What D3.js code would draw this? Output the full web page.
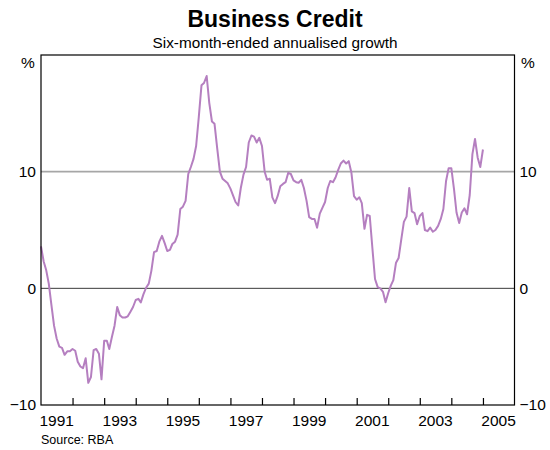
<!DOCTYPE html>
<html>
<head>
<meta charset="utf-8">
<script src="https://cdn.jsdelivr.net/npm/d3@7"></script>
<style>
  html, body { margin: 0; padding: 0; background: #fff; }
  svg { display: block; font-family: Arial, "Liberation Sans", sans-serif; }
</style>
</head>
<body>
<svg id="chart" width="550" height="450"></svg>
<script>
// Business credit, six-month-ended annualised growth, monthly from January 1991 (per cent)
const firstMonth = "1991-01";
const growth = [
  3.6, 2.3, 1.6, 0.4, -1.4, -3.2, -4.3, -5.0, -5.1, -5.7, -5.4, -5.4,
  -5.2, -5.35, -6.3, -6.7, -6.85, -6.0, -8.1, -7.6, -5.3, -5.2, -5.6, -7.8,
  -4.5, -4.5, -5.2, -4.15, -3.2, -1.6, -2.3, -2.5, -2.5, -2.4, -2.0, -1.6,
  -1.0, -0.9, -1.2, -0.5, 0.05, 0.4, 1.5, 3.1, 3.2, 4.0, 4.5, 3.9,
  3.2, 3.3, 3.8, 4.0, 4.6, 6.8, 7.0, 7.5, 9.8, 10.4, 11.1, 12.2,
  14.7, 17.4, 17.6, 18.2, 15.9, 14.3, 14.1, 12.0, 10.0, 9.4, 9.2, 9.0,
  8.55, 7.95, 7.4, 7.1, 8.6, 9.75, 10.4, 12.5, 13.1, 13.0, 12.5, 12.9,
  12.2, 10.0, 9.3, 9.4, 7.8, 7.3, 7.9, 8.75, 8.95, 9.1, 9.9, 9.8,
  9.25, 9.1, 9.05, 9.3, 8.6, 7.5, 6.1, 5.95, 5.95, 5.2, 6.4, 6.9,
  7.4, 8.6, 9.2, 9.1, 9.5, 10.15, 10.7, 10.95, 10.7, 10.9, 9.9, 7.9,
  7.6, 7.8, 7.3, 5.1, 6.3, 6.2, 3.5, 0.8, 0.1, 0.0, -0.3, -1.2,
  -0.4, 0.25, 0.7, 2.2, 2.6, 4.2, 5.7, 6.15, 8.6, 6.6, 6.45, 5.5,
  6.2, 6.45, 5.0, 4.9, 5.2, 4.85, 5.0, 5.35, 5.95, 6.8, 9.2, 10.3,
  10.3, 8.5, 6.5, 5.6, 6.5, 6.85, 6.35, 8.0, 11.5, 12.8, 11.2, 10.4,
  11.9
];
const yTicks = [-10, 0, 10];
const yearLabels = [1991, 1993, 1995, 1997, 1999, 2001, 2003, 2005];
const xDomainYears = [1991, 2006];
const yDomain = [-10, 20];

const parseMonth = d3.timeParse("%Y-%m");
const start = parseMonth(firstMonth);
const series = growth.map((v, i) => ({ date: d3.timeMonth.offset(start, i), value: v }));

const svg = d3.select("#chart");
const margin = { left: 41, right: 35.5, top: 55, bottom: 45 };
const W = 550, H = 450;
const plotW = W - margin.left - margin.right;
const plotH = H - margin.top - margin.bottom;
const labelSize = 15.5;

const x = d3.scaleTime()
  .domain(xDomainYears.map(y => new Date(y, 0, 1)))
  .range([margin.left, margin.left + plotW]);
const y = d3.scaleLinear()
  .domain(yDomain)
  .range([margin.top + plotH, margin.top]);

// Title and subtitle
svg.append("text")
  .attr("x", W / 2).attr("y", 27)
  .attr("text-anchor", "middle")
  .attr("font-size", 23).attr("font-weight", "bold")
  .text("Business Credit");
svg.append("text")
  .attr("x", W / 2).attr("y", 48)
  .attr("text-anchor", "middle")
  .attr("font-size", 15.3)
  .text("Six-month-ended annualised growth");

// Horizontal reference lines
svg.append("line")
  .attr("x1", margin.left).attr("x2", margin.left + plotW)
  .attr("y1", y(10)).attr("y2", y(10))
  .attr("stroke", "#a6a6a6").attr("stroke-width", 1.6);
svg.append("line")
  .attr("x1", margin.left).attr("x2", margin.left + plotW)
  .attr("y1", y(0)).attr("y2", y(0))
  .attr("stroke", "#3a3a3a").attr("stroke-width", 1);

// Series line
const line = d3.line()
  .x(d => x(d.date))
  .y(d => y(d.value));
svg.append("path")
  .datum(series)
  .attr("fill", "none")
  .attr("stroke", "#b57fc0")
  .attr("stroke-width", 2)
  .attr("stroke-linejoin", "round")
  .attr("d", line);

// Frame
svg.append("rect")
  .attr("x", margin.left).attr("y", margin.top)
  .attr("width", plotW).attr("height", plotH)
  .attr("fill", "none").attr("stroke", "#000").attr("stroke-width", 1.2);

// Bottom axis: yearly ticks pointing inward, labels centred on the year
const years = d3.range(xDomainYears[0] + 1, xDomainYears[1]).map(yr => new Date(yr, 0, 1));
const xAxis = d3.axisBottom(x).tickValues(years).tickSize(-7).tickFormat("");
const gx = svg.append("g")
  .attr("transform", `translate(0,${margin.top + plotH})`)
  .call(xAxis);
gx.select(".domain").remove();
gx.selectAll(".tick line").attr("stroke", "#000").attr("stroke-width", 1.2);

svg.append("g").selectAll("text")
  .data(yearLabels)
  .join("text")
  .attr("x", yr => x(new Date(yr, 6, 1)))
  .attr("y", margin.top + plotH + 20.5)
  .attr("text-anchor", "middle")
  .attr("font-size", labelSize)
  .text(yr => yr);

// Left and right value labels
const yAxisL = d3.axisLeft(y).tickValues(yTicks).tickSize(0).tickPadding(5);
const gl = svg.append("g").attr("transform", `translate(${margin.left},0)`).call(yAxisL);
const yAxisR = d3.axisRight(y).tickValues(yTicks).tickSize(0).tickPadding(5);
const gr = svg.append("g").attr("transform", `translate(${margin.left + plotW},0)`).call(yAxisR);
[gl, gr].forEach(g => {
  g.select(".domain").remove();
  g.selectAll("text").attr("font-size", labelSize).attr("fill", "#000")
    .attr("font-family", "Arial, 'Liberation Sans', sans-serif");
});

// Unit markers
svg.append("text")
  .attr("x", 28).attr("y", 68)
  .attr("text-anchor", "middle").attr("font-size", labelSize)
  .text("%");
svg.append("text")
  .attr("x", 528).attr("y", 68)
  .attr("text-anchor", "middle").attr("font-size", labelSize)
  .text("%");

// Source note
svg.append("text")
  .attr("x", margin.left).attr("y", 444)
  .attr("font-size", 12.5)
  .text("Source: RBA");
</script>
</body>
</html>
